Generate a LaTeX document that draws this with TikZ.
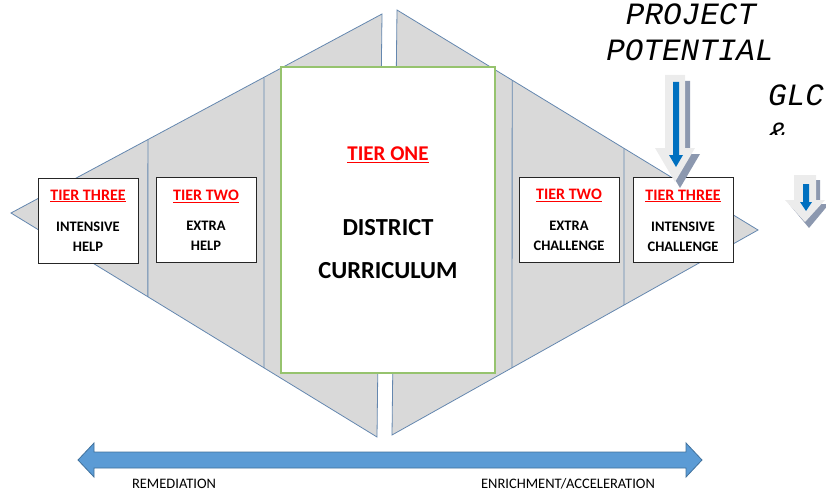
\documentclass[tikz,border=0pt]{standalone}
\usepackage{fontspec}
\setmainfont{Carlito}
\newfontfamily\courfont{Liberation Mono}
\usetikzlibrary{calc}

\definecolor{triedge}{RGB}{100,135,175}
\definecolor{trifill}{RGB}{217,217,217}
\definecolor{curredge}{RGB}{150,195,110}
\definecolor{barblue}{RGB}{91,155,213}
\definecolor{baredge}{RGB}{65,113,156}
\definecolor{tierred}{RGB}{255,0,0}
\definecolor{pilblue}{RGB}{0,112,192}
\definecolor{pilshade}{RGB}{140,152,175}
\definecolor{pilfill}{RGB}{236,236,236}

\tikzset{
  tri/.style={draw=triedge, fill=trifill, line width=0.8pt},
  tierbox/.style={draw=black!85, line width=1pt, fill=white, minimum width=100pt, minimum height=85pt, inner sep=0pt},
  tierlab/.style={text=tierred, font=\fontsize{16}{18}\selectfont\bfseries, inner sep=0pt},
  tiertxt/.style={font=\fontsize{14.5}{20}\selectfont\bfseries, align=center, inner sep=0pt},
  axislab/.style={font=\fontsize{14.5}{18}\selectfont, inner sep=0pt},
  projtxt/.style={font=\courfont\itshape\fontsize{31}{36}\selectfont, inner sep=0pt}
}

\begin{document}
\begin{tikzpicture}[x=1pt, y=-1pt]
    \clip (0,0) rectangle (826,492);
    % left triangle
    \coordinate (lapex) at (11,213);
    \coordinate (ltop) at (382,14);
    \coordinate (lbot) at (377,437);
    \draw[tri] (lapex) -- (ltop) -- (lbot) -- cycle;
    \draw[triedge, line width=0.8pt] ($(lapex)!.369!(ltop)$) -- ($(lapex)!.374!(lbot)$);
    \draw[triedge, line width=0.8pt] ($(lapex)!.682!(ltop)$) -- ($(lapex)!.691!(lbot)$);
    % right triangle
    \coordinate (rapex) at (758,230);
    \coordinate (rtop) at (397,10);
    \coordinate (rbot) at (392,435);
    \draw[tri] (rapex) -- (rtop) -- (rbot) -- cycle;
    \draw[triedge, line width=0.8pt] ($(rtop)!.319!(rapex)$) -- ($(rbot)!.328!(rapex)$);
    \draw[triedge, line width=0.8pt] ($(rtop)!.629!(rapex)$) -- ($(rbot)!.634!(rapex)$);

    % tier one
    \node[draw=curredge, line width=1.3pt, fill=white, minimum width=214pt, minimum height=306pt] (tierone) at (388,220) {};
    \node[text=tierred, font=\fontsize{21}{24}\selectfont\bfseries, inner sep=0pt] (onelab) at (388,155) {\underline{TIER ONE}};
    \node[font=\fontsize{24.5}{28}\selectfont\bfseries, inner sep=0pt] (district) at (388,228) {DISTRICT};
    \node[font=\fontsize{24.5}{28}\selectfont\bfseries, inner sep=0pt] (curric) at (388,271) {CURRICULUM};

    % tier boxes
    \node[tierbox] (threel) at (88,220.5) {};
    \node[tierlab] (threellab) at (88,196) {\underline{TIER THREE}};
    \node[tiertxt] (threeltxt) at (88,237) {INTENSIVE\\HELP};
    \node[tierbox] (twol) at (206,220) {};
    \node[tierlab] (twollab) at (206,196) {\underline{TIER TWO}};
    \node[tiertxt] (twoltxt) at (206,236) {EXTRA\\HELP};
    \node[tierbox] (twor) at (569,220) {};
    \node[tierlab] (tworlab) at (569,195) {\underline{TIER TWO}};
    \node[tiertxt] (twortxt) at (569,236) {EXTRA\\CHALLENGE};
    \node[tierbox] (threer) at (683,220) {};
    \node[tierlab] (threerlab) at (683,196) {\underline{TIER THREE}};
    \node[tiertxt] (threertxt) at (683,237) {INTENSIVE\\CHALLENGE};

    % range arrow
    \draw[fill=barblue, draw=baredge, line width=0.8pt] (78,460) -- (94,443) -- (94,452) -- (686,452) -- (686,443) -- (702,460) -- (686,477) -- (686,468) -- (94,468) -- (94,477) -- cycle;
    \node[axislab] (remed) at (174,483.5) {REMEDIATION};
    \node[axislab] (enrich) at (568,483.5) {ENRICHMENT/ACCELERATION};

    % project potential
    \node[projtxt, anchor=base] (proj) at (691,25) {PROJECT};
    \node[projtxt, anchor=base] (pot) at (690,61) {POTENTIAL};
    \node[projtxt, anchor=base west] (glc) at (768,106) {GLC};
    \begin{scope}
        \clip (760,110) rectangle (826,134);
        \node[projtxt, anchor=base west] (amp) at (768,143) {\&};
    \end{scope}

    % down arrows
    \fill[pilshade] (670,81) -- (690,81) -- (690,154) -- (700,154) -- (680,188) -- (660,154) -- (670,154) -- cycle;
    \fill[pilfill] (665,75) -- (685,75) -- (685,148) -- (695,148) -- (675,182) -- (655,148) -- (665,148) -- cycle;
    \fill[pilblue] (673,82) -- (679,82) -- (679,155) -- (683,155) -- (676,167) -- (669,155) -- (673,155) -- cycle;

    \fill[pilshade] (798,180) -- (820,180) -- (820,204) -- (829,204) -- (809,228) -- (789,204) -- (798,204) -- cycle;
    \fill[pilfill] (794,175) -- (816,175) -- (816,200) -- (825,200) -- (805,222) -- (785,200) -- (794,200) -- cycle;
    \fill[pilblue] (803,184) -- (809,184) -- (809,202) -- (812,202) -- (806,211) -- (800,202) -- (803,202) -- cycle;
\end{tikzpicture}
\end{document}
